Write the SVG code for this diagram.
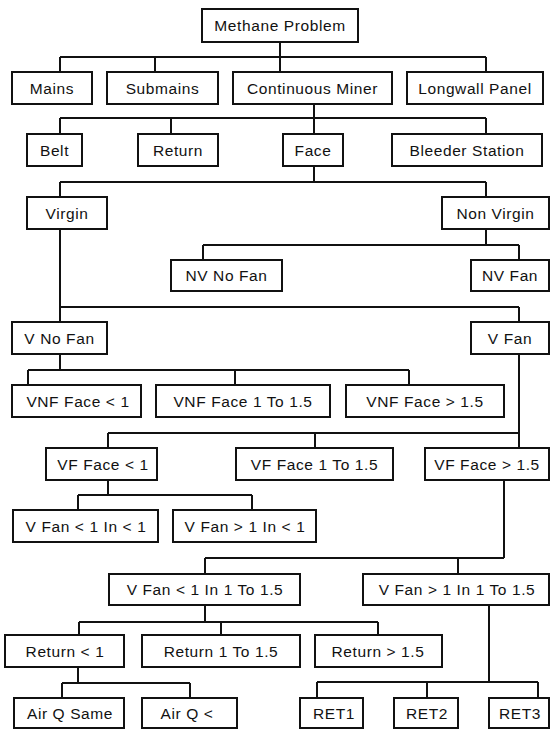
<svg xmlns="http://www.w3.org/2000/svg" width="550" height="730" viewBox="0 0 550 730">
<style>
rect{fill:#fff;stroke:#111;stroke-width:2}
text{font-family:"Liberation Sans",Arial,sans-serif;font-size:15.5px;fill:#111;text-anchor:middle;letter-spacing:0.6px}
#connectors path{fill:none;stroke:#111;stroke-width:2}
</style>
<rect x="0" y="0" width="550" height="730" style="stroke:none"/>
<g id="connectors">
<path d="M280 42V57M60 57H486M60 57V72M155 57V72M280 57V72M486 57V72"/>
<path d="M314 104V118M60 118H486M60 118V134M171 118V134M314 118V134M486 118V134"/>
<path d="M314 166V182M60 182H486M60 182V197M486 182V197"/>
<path d="M486 229V245M203 245H519M203 245V260M519 245V260"/>
<path d="M60 229V322M60 307H519M519 307V322"/>
<path d="M60 354V370M28 370H409M28 370V385M235 370V385M409 370V385"/>
<path d="M519 354V448M108 433H519M108 433V448M315 433V448"/>
<path d="M108 480V495M78 495H252M78 495V510M252 495V510"/>
<path d="M504 480V558M205 558H504M205 558V574M458 558V574"/>
<path d="M205 605V622M79 622H378M79 622V635M221 622V635M378 622V635"/>
<path d="M78 667V683M62 683H190M62 683V698M190 683V698"/>
<path d="M489 605V682M317 682H538M317 682V698M427 682V698M538 682V698"/>
</g>
<g id="methane"><rect x="202" y="9" width="156" height="33"/><text x="280" y="31">Methane Problem</text></g>
<g id="mains"><rect x="12" y="72" width="80" height="32"/><text x="52" y="93.5">Mains</text></g>
<g id="submains"><rect x="107" y="72" width="111" height="32"/><text x="162.5" y="93.5">Submains</text></g>
<g id="cminer"><rect x="233" y="72" width="159" height="32"/><text x="312.5" y="93.5">Continuous Miner</text></g>
<g id="longwall"><rect x="407" y="72" width="136" height="32"/><text x="475" y="93.5">Longwall Panel</text></g>
<g id="belt"><rect x="27" y="134" width="55" height="32"/><text x="54.5" y="155.5">Belt</text></g>
<g id="return"><rect x="138" y="134" width="80" height="32"/><text x="178" y="155.5">Return</text></g>
<g id="face"><rect x="283" y="134" width="60" height="32"/><text x="313" y="155.5">Face</text></g>
<g id="bleeder"><rect x="392" y="134" width="150" height="32"/><text x="467" y="155.5">Bleeder Station</text></g>
<g id="virgin"><rect x="27" y="197" width="80" height="32"/><text x="67" y="218.5">Virgin</text></g>
<g id="nonvirgin"><rect x="442" y="197" width="107" height="32"/><text x="495.5" y="218.5">Non Virgin</text></g>
<g id="nvnofan"><rect x="171" y="260" width="111" height="31"/><text x="226.5" y="281">NV No Fan</text></g>
<g id="nvfan"><rect x="471" y="260" width="78" height="31"/><text x="510" y="281">NV Fan</text></g>
<g id="vnofan"><rect x="12" y="322" width="95" height="32"/><text x="59.5" y="343.5">V No Fan</text></g>
<g id="vfan"><rect x="471" y="322" width="78" height="32"/><text x="510" y="343.5">V Fan</text></g>
<g id="vnf1"><rect x="12" y="385" width="129" height="32"/><text x="78" y="406.5">VNF Face &lt; 1</text></g>
<g id="vnf2"><rect x="156" y="385" width="174" height="32"/><text x="243" y="406.5">VNF Face 1 To 1.5</text></g>
<g id="vnf3"><rect x="346" y="385" width="158" height="32"/><text x="425" y="406.5">VNF Face &gt; 1.5</text></g>
<g id="vf1"><rect x="46" y="448" width="111" height="32"/><text x="103" y="469.5">VF Face &lt; 1</text></g>
<g id="vf2"><rect x="236" y="448" width="157" height="32"/><text x="314.5" y="469.5">VF Face 1 To 1.5</text></g>
<g id="vf3"><rect x="425" y="448" width="124" height="32"/><text x="487" y="469.5">VF Face &gt; 1.5</text></g>
<g id="vfan_lt1_in_lt1"><rect x="13" y="510" width="145" height="32"/><text x="86" y="531.5">V Fan &lt; 1 In &lt; 1</text></g>
<g id="vfan_gt1_in_lt1"><rect x="173" y="510" width="143" height="32"/><text x="245" y="531.5">V Fan &gt; 1 In &lt; 1</text></g>
<g id="vfan_lt1_in_mid"><rect x="109" y="574" width="191" height="31"/><text x="205" y="595">V Fan &lt; 1 In 1 To 1.5</text></g>
<g id="vfan_gt1_in_mid"><rect x="363" y="574" width="186" height="31"/><text x="457" y="595">V Fan &gt; 1 In 1 To 1.5</text></g>
<g id="ret_lt1"><rect x="5" y="635" width="119" height="32"/><text x="65" y="656.5">Return &lt; 1</text></g>
<g id="ret_mid"><rect x="142" y="635" width="158" height="32"/><text x="221" y="656.5">Return 1 To 1.5</text></g>
<g id="ret_gt"><rect x="315" y="635" width="127" height="32"/><text x="378" y="656.5">Return &gt; 1.5</text></g>
<g id="airsame"><rect x="14" y="698" width="110" height="30"/><text x="70" y="718.5">Air Q Same</text></g>
<g id="airless"><rect x="142" y="698" width="95" height="30"/><text x="187" y="718.5">Air Q &lt;</text></g>
<g id="ret1"><rect x="300" y="698" width="63" height="30"/><text x="334" y="718.5">RET1</text></g>
<g id="ret2"><rect x="394" y="698" width="64" height="30"/><text x="427" y="718.5">RET2</text></g>
<g id="ret3"><rect x="489" y="698" width="60" height="30"/><text x="520" y="718.5">RET3</text></g>
</svg>
